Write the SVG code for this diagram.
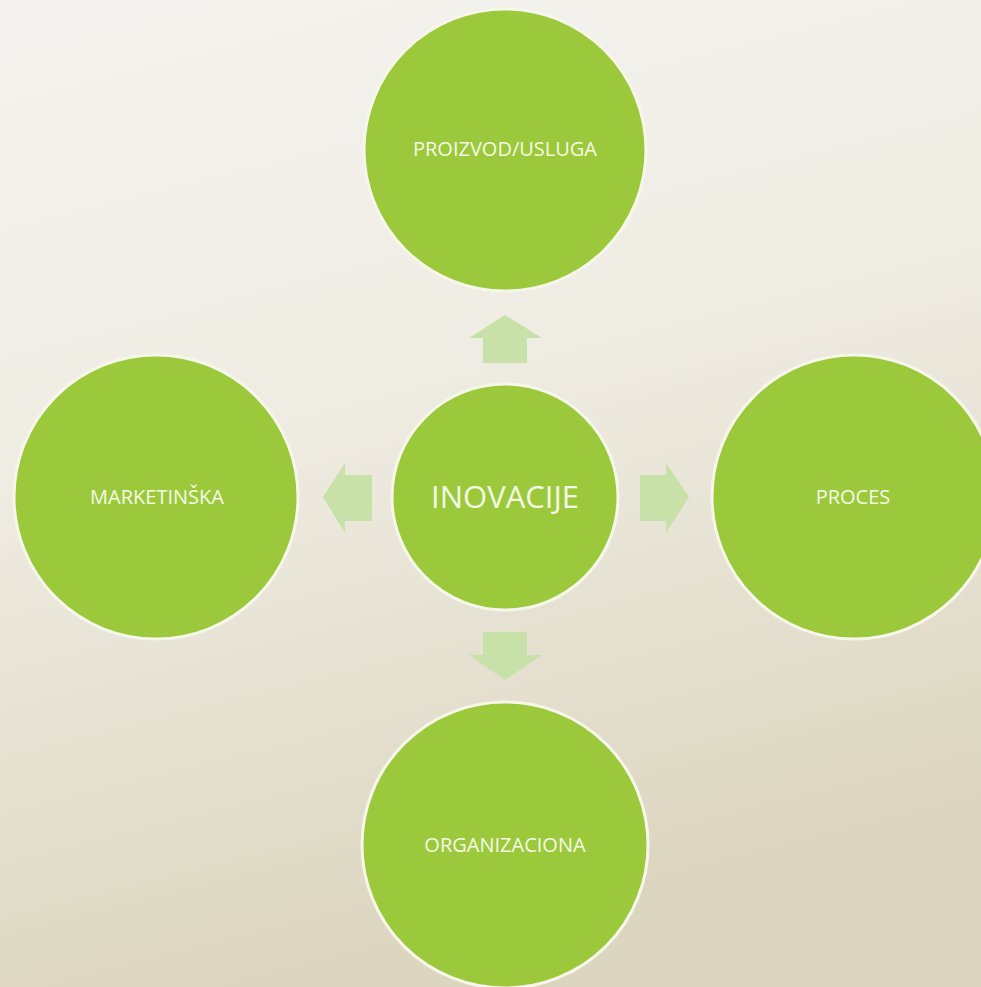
<svg xmlns="http://www.w3.org/2000/svg" width="981" height="987" viewBox="0 0 981 987">
<defs>
<linearGradient id="bg" x1="0" y1="0" x2="0.25" y2="1">
<stop offset="0" stop-color="#f4f3ef"/>
<stop offset="0.45" stop-color="#efece3"/>
<stop offset="1" stop-color="#dcd6c0"/>
</linearGradient>
<style>
.c{fill:#9cc93b;stroke:#f6f7ea;stroke-width:3}
.a{fill:#c7e1a9}
.t{font-family:"Open Sans","Noto Sans",sans-serif;fill:#f4fae6;text-anchor:middle;dominant-baseline:central}
.s{font-size:20px}
</style>
</defs>
<rect width="981" height="987" fill="url(#bg)"/>
<g id="connectors">
<polygon class="a" points="505,315 542,338 527,338 527,363 483,363 483,338 469,338"/>
<polygon class="a" points="323,497 345,463 345,475 372,475 372,521 345,521 345,533"/>
<polygon class="a" points="689,497 666,463 666,475 640,475 640,521 666,521 666,533"/>
<polygon class="a" points="505,680 542,655 527,655 527,632 483,632 483,655 469,655"/>
</g>
<g id="center"><circle class="c" cx="505" cy="497" r="113"/><text class="t" x="505" y="496" font-size="31">INOVACIJE</text></g>
<g id="top"><circle class="c" cx="505" cy="150" r="141"/><text class="t s" x="505" y="148">PROIZVOD/USLUGA</text></g>
<g id="left"><circle class="c" cx="156" cy="497" r="142"/><text class="t s" x="157" y="496">MARKETINŠKA</text></g>
<g id="right"><circle class="c" cx="854" cy="497" r="142"/><text class="t s" x="853" y="496">PROCES</text></g>
<g id="bottom"><circle class="c" cx="505" cy="845" r="143"/><text class="t s" x="505" y="844">ORGANIZACIONA</text></g>
</svg>
